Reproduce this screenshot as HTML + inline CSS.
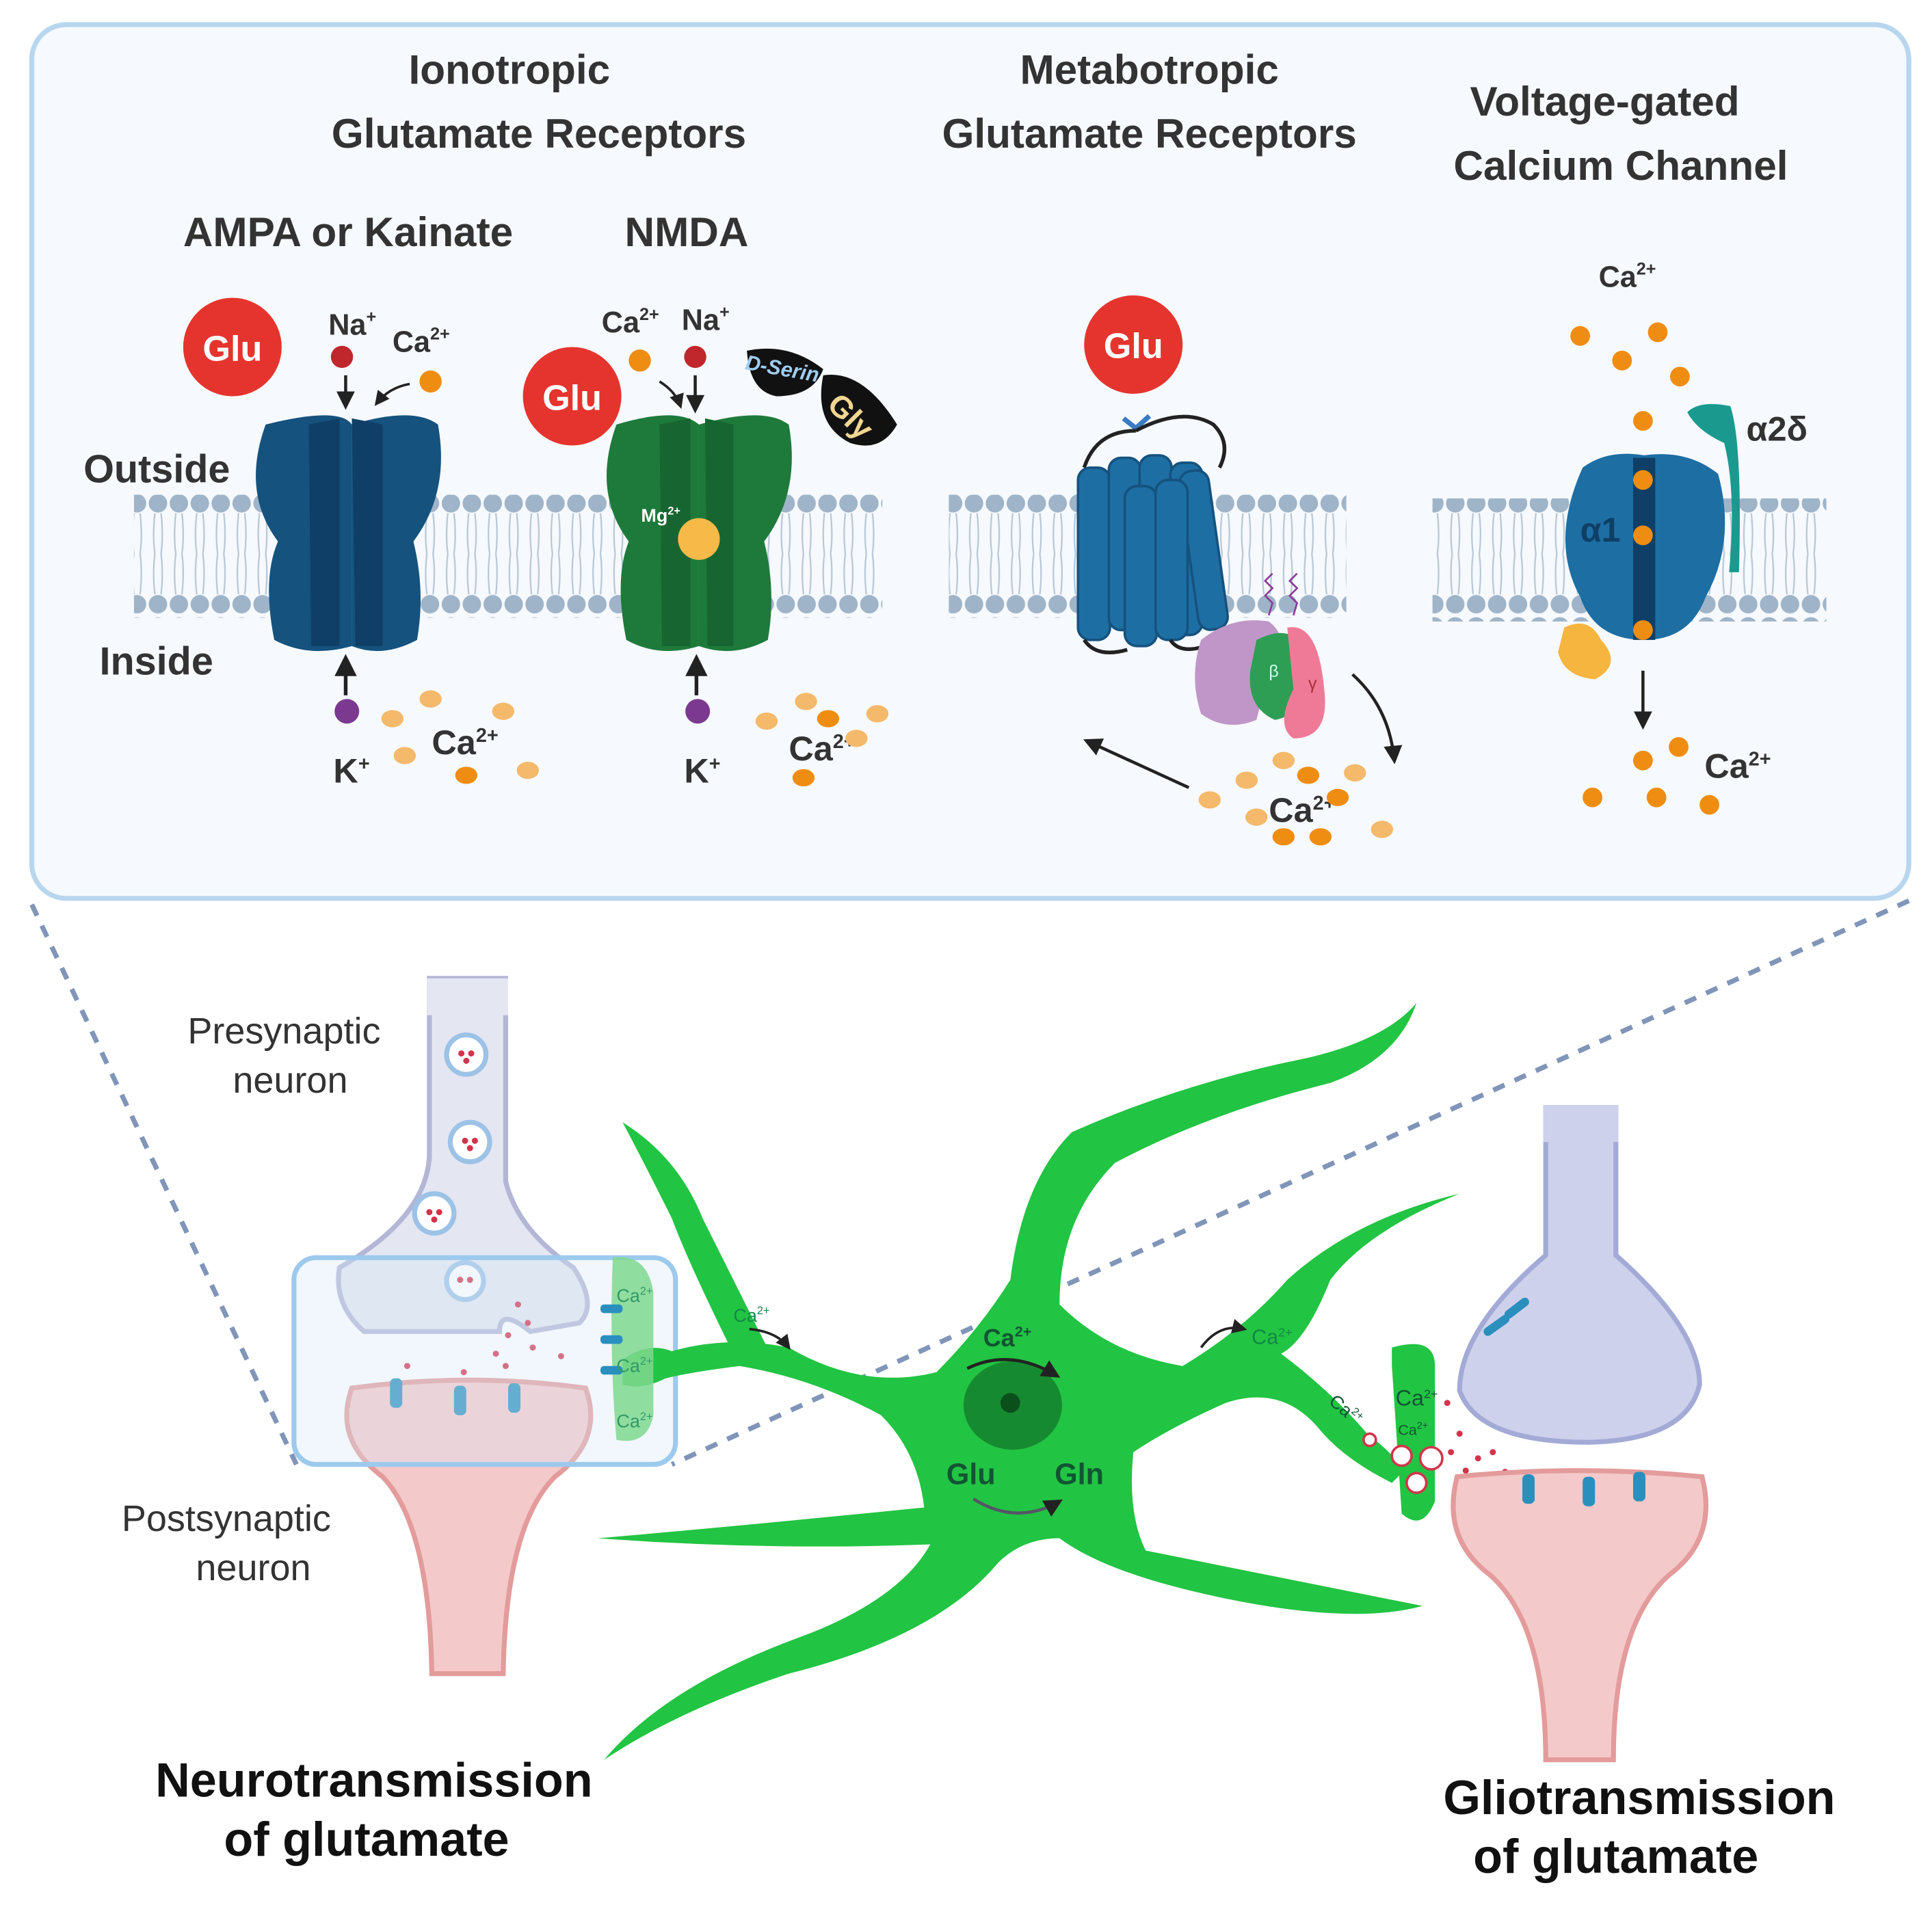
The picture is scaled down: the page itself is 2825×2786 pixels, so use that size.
<!DOCTYPE html>
<html><head><meta charset="utf-8"><style>
html,body{margin:0;padding:0;background:#fff;}
svg{display:block;}
text{font-family:"Liberation Sans",sans-serif;}
.b{font-weight:bold;fill:#333;}
</style></head><body>
<svg width="2825" height="2786" viewBox="0 0 1568 1548" xmlns="http://www.w3.org/2000/svg">
<defs>
<pattern id="lip" x="0" y="0" width="17" height="100" patternUnits="userSpaceOnUse">
<circle cx="8.5" cy="9" r="7.5" fill="#9fb4c8"/>
<circle cx="8.5" cy="91" r="7.5" fill="#9fb4c8"/>
<path d="M6 17 Q4 35 6 50 M11 17 Q13 35 11 50 M6 50 Q4 65 6 83 M11 50 Q13 65 11 83" stroke="#b5c6d6" stroke-width="1.2" fill="none"/>
</pattern>
<marker id="ar" viewBox="0 0 10 10" refX="8" refY="5" markerWidth="6" markerHeight="6" orient="auto"><path d="M0 0L10 5L0 10z" fill="#222"/></marker>
</defs>
<rect width="1568" height="1548" fill="#fff"/>
<rect x="25" y="20" width="1525" height="710" rx="28" fill="#f6f9fd" stroke="#b8d6ee" stroke-width="4"/>
<path d="M25 735 L240 1190" stroke="#8095b8" stroke-width="4" stroke-dasharray="10 9"/>
<path d="M1550 732 L545 1190" stroke="#8095b8" stroke-width="4" stroke-dasharray="10 9"/>

<text class="b" x="413" y="68" font-size="33.5" text-anchor="middle">Ionotropic</text>
<text class="b" x="437" y="120" font-size="33.5" text-anchor="middle">Glutamate Receptors</text>
<text class="b" x="933" y="68" font-size="33.5" text-anchor="middle">Metabotropic</text>
<text class="b" x="933" y="120" font-size="33.5" text-anchor="middle">Glutamate Receptors</text>
<text class="b" x="1303" y="94" font-size="33.5" text-anchor="middle">Voltage-gated</text>
<text class="b" x="1316" y="146" font-size="33.5" text-anchor="middle">Calcium Channel</text>
<text class="b" x="282" y="200" font-size="33.5" text-anchor="middle">AMPA or Kainate</text>
<text class="b" x="557" y="200" font-size="33.5" text-anchor="middle">NMDA</text>
<text class="b" x="67" y="392" font-size="32">Outside</text>
<text class="b" x="80" y="548" font-size="32">Inside</text>

<rect x="108" y="402" width="608" height="100" fill="url(#lip)"/>
<rect x="770" y="402" width="323" height="100" fill="url(#lip)"/>
<rect x="1163" y="405" width="320" height="100" fill="url(#lip)"/>

<path d="M215 345 Q275 330 285 345 L285 525 Q250 535 222 520 Q212 470 225 440 Q195 400 215 345z" fill="#15527e"/>
<path d="M285 345 Q335 330 355 345 Q365 400 335 440 Q345 480 338 520 Q310 535 285 525z" fill="#15527e"/>
<path d="M250 345 L275 340 L275 525 L252 525z" fill="#0f3f66"/>
<path d="M285 340 L310 345 L310 525 L288 525z" fill="#0f3f66"/>
<circle cx="188" cy="282" r="40" fill="#e5342e"/>
<text x="188" y="293" font-size="29" font-weight="bold" fill="#fff" text-anchor="middle">Glu</text>
<text class="b" x="266" y="272" font-size="24">Na<tspan font-size="14" dy="-10">+</tspan></text>
<text class="b" x="318" y="286" font-size="24">Ca<tspan font-size="14" dy="-10">2+</tspan></text>
<circle cx="277" cy="290" r="9" fill="#c0272d"/>
<circle cx="349" cy="310" r="9" fill="#ef8d12"/>
<path d="M280 305 L280 330" stroke="#222" stroke-width="2.5" marker-end="url(#ar)"/>
<path d="M332 312 Q315 315 305 328" stroke="#222" stroke-width="2" fill="none" marker-end="url(#ar)"/>
<path d="M280 565 L280 535" stroke="#222" stroke-width="3" marker-end="url(#ar)"/>
<circle cx="281" cy="578" r="10" fill="#7b3a8f"/>
<text class="b" x="270" y="636" font-size="28">K<tspan font-size="16" dy="-10">+</tspan></text>
<text class="b" x="350" y="613" font-size="28">Ca<tspan font-size="16" dy="-10">2+</tspan></text>
<g fill="#f4b96a"><ellipse cx="318" cy="584" rx="9" ry="7"/><ellipse cx="349" cy="568" rx="9" ry="7"/><ellipse cx="408" cy="578" rx="9" ry="7"/><ellipse cx="328" cy="614" rx="9" ry="7"/><ellipse cx="428" cy="626" rx="9" ry="7"/></g>
<ellipse cx="378" cy="630" rx="9" ry="7" fill="#ef8d12"/>

<path d="M500 345 Q550 330 567 345 L567 525 Q535 535 508 520 Q498 470 510 440 Q480 400 500 345z" fill="#1e7a3a"/>
<path d="M567 345 Q620 330 640 345 Q650 400 620 440 Q630 480 623 520 Q595 535 567 525z" fill="#1e7a3a"/>
<path d="M535 345 L560 340 L560 525 L537 525z" fill="#176530"/>
<path d="M572 340 L595 345 L595 525 L574 525z" fill="#176530"/>
<circle cx="567" cy="438" r="17" fill="#f7b948"/>
<text x="520" y="424" font-size="15" font-weight="bold" fill="#fff">Mg<tspan font-size="9" dy="-6">2+</tspan></text>
<circle cx="464" cy="322" r="40" fill="#e5342e"/>
<text x="464" y="333" font-size="29" font-weight="bold" fill="#fff" text-anchor="middle">Glu</text>
<text class="b" x="488" y="270" font-size="24">Ca<tspan font-size="14" dy="-10">2+</tspan></text>
<text class="b" x="553" y="268" font-size="24">Na<tspan font-size="14" dy="-10">+</tspan></text>
<circle cx="519" cy="293" r="9" fill="#ef8d12"/>
<circle cx="564" cy="290" r="9" fill="#c0272d"/>
<path d="M564 305 L564 333" stroke="#222" stroke-width="2.5" marker-end="url(#ar)"/>
<path d="M535 310 Q548 318 552 330" stroke="#222" stroke-width="2" fill="none" marker-end="url(#ar)"/>
<path d="M606 285 Q640 278 668 300 Q660 322 630 322 Q608 318 606 285z" fill="#111"/>
<text x="604" y="300" font-size="17" font-weight="bold" font-style="italic" fill="#9ecdf0" transform="rotate(10 604 300)">D-Serin</text>
<path d="M668 305 Q700 300 728 345 Q715 368 690 360 Q660 345 668 305z" fill="#111"/>
<text x="670" y="330" font-size="25" font-weight="bold" fill="#f1d691" transform="rotate(45 670 330)">Gly</text>
<path d="M565 565 L565 535" stroke="#222" stroke-width="3" marker-end="url(#ar)"/>
<circle cx="566" cy="578" r="10" fill="#7b3a8f"/>
<text class="b" x="555" y="636" font-size="28">K<tspan font-size="16" dy="-10">+</tspan></text>
<text class="b" x="640" y="618" font-size="28">Ca<tspan font-size="16" dy="-10">2+</tspan></text>
<g fill="#f4b96a"><ellipse cx="622" cy="586" rx="9" ry="7"/><ellipse cx="654" cy="570" rx="9" ry="7"/><ellipse cx="712" cy="580" rx="9" ry="7"/><ellipse cx="695" cy="600" rx="9" ry="7"/></g>
<ellipse cx="672" cy="584" rx="9" ry="7" fill="#ef8d12"/><ellipse cx="652" cy="632" rx="9" ry="7" fill="#ef8d12"/>

<circle cx="920" cy="280" r="40" fill="#e5342e"/>
<text x="920" y="291" font-size="29" font-weight="bold" fill="#fff" text-anchor="middle">Glu</text>
<path d="M912 340 L922 348 L933 338" stroke="#3b7bc4" stroke-width="4" fill="none"/>
<path d="M922 350 Q960 330 985 345 Q1000 360 990 380 M880 380 Q890 350 922 350" stroke="#222" stroke-width="3" fill="none"/>
<g fill="#1d6ea3" stroke="#15527e" stroke-width="2">
<rect x="875" y="380" width="26" height="140" rx="10"/><rect x="900" y="372" width="26" height="140" rx="10"/><rect x="925" y="370" width="26" height="140" rx="10"/><rect x="950" y="376" width="26" height="140" rx="10"/><rect x="965" y="382" width="24" height="130" rx="10" transform="rotate(-8 977 447)"/><rect x="913" y="395" width="26" height="130" rx="10"/><rect x="938" y="390" width="26" height="130" rx="10"/>
</g>
<path d="M880 520 Q890 535 915 528 M950 520 Q960 535 990 520" stroke="#222" stroke-width="3" fill="none"/>
<path d="M975 520 Q1000 500 1030 505 Q1050 520 1030 545 L1020 585 Q995 595 975 580 Q965 550 975 520z" fill="#c096c8"/>
<path d="M1020 520 Q1050 505 1060 530 Q1065 580 1035 585 Q1012 575 1015 545z" fill="#2f9e55"/>
<path d="M1045 510 Q1070 505 1075 560 Q1080 600 1050 600 Q1035 590 1050 560z" fill="#ef7a97"/>
<path d="M1030 500 l3 -10 l-6 -6 l6 -6 l-6 -6 l6 -6 M1050 500 l3 -10 l-6 -6 l6 -6 l-6 -6 l6 -6" stroke="#8a3e9a" stroke-width="1.5" fill="none"/>
<text x="1030" y="550" font-size="14" fill="#cfe">β</text><text x="1062" y="560" font-size="14" fill="#a33">γ</text>
<path d="M965 640 L882 602" stroke="#222" stroke-width="2.5" marker-end="url(#ar)"/>
<path d="M1098 548 Q1128 575 1132 618" stroke="#222" stroke-width="2.5" fill="none" marker-end="url(#ar)"/>
<text class="b" x="1030" y="668" font-size="28">Ca<tspan font-size="16" dy="-10">2+</tspan></text>
<g fill="#f4b96a"><ellipse cx="982" cy="650" rx="9" ry="7"/><ellipse cx="1012" cy="634" rx="9" ry="7"/><ellipse cx="1042" cy="618" rx="9" ry="7"/><ellipse cx="1100" cy="628" rx="9" ry="7"/><ellipse cx="1122" cy="674" rx="9" ry="7"/><ellipse cx="1020" cy="664" rx="9" ry="7"/></g>
<g fill="#ef8d12"><ellipse cx="1062" cy="630" rx="9" ry="7"/><ellipse cx="1042" cy="680" rx="9" ry="7"/><ellipse cx="1072" cy="680" rx="9" ry="7"/><ellipse cx="1086" cy="648" rx="9" ry="7"/></g>

<text class="b" x="1298" y="233" font-size="24">Ca<tspan font-size="14" dy="-10">2+</tspan></text>
<g fill="#ef8d12"><circle cx="1283" cy="273" r="8"/><circle cx="1346" cy="270" r="8"/><circle cx="1317" cy="293" r="8"/><circle cx="1364" cy="306" r="8"/><circle cx="1334" cy="342" r="8"/></g>
<path d="M1285 380 Q1305 365 1335 370 Q1370 365 1395 385 Q1410 440 1385 485 Q1372 520 1335 520 Q1295 520 1283 485 Q1258 440 1285 380z" fill="#1d6ea3"/>
<rect x="1326" y="372" width="18" height="148" fill="#0f3f66"/>
<g fill="#ef8d12"><circle cx="1334" cy="390" r="8"/><circle cx="1334" cy="435" r="8"/><circle cx="1334" cy="512" r="8"/></g>
<text x="1283" y="440" font-size="28" font-weight="bold" fill="#0f3f66">α1</text>
<path d="M1404 465 Q1410 400 1400 360 Q1378 350 1370 335 Q1380 325 1405 330 Q1415 360 1412 465z" fill="#1a9a8f"/>
<text class="b" x="1418" y="358" font-size="28">α2δ</text>
<path d="M1270 510 Q1290 500 1300 520 Q1318 540 1295 552 Q1270 550 1265 530z" fill="#f6b53e"/>
<path d="M1334 545 L1334 590" stroke="#222" stroke-width="2.5" marker-end="url(#ar)"/>
<text class="b" x="1384" y="632" font-size="28">Ca<tspan font-size="16" dy="-10">2+</tspan></text>
<g fill="#ef8d12"><circle cx="1334" cy="618" r="8"/><circle cx="1363" cy="607" r="8"/><circle cx="1293" cy="648" r="8"/><circle cx="1345" cy="648" r="8"/><circle cx="1388" cy="654" r="8"/></g>

<path d="M348 795 L410 795 L410 960 Q420 1000 465 1030 Q485 1060 470 1075 L430 1082 Q405 1062 405 1082 L295 1082 Q270 1060 275 1030 Q345 990 348 940z" fill="#e4e6f2" stroke="#b4b6d6" stroke-width="4"/>
<rect x="346" y="795" width="66" height="30" fill="#e4e6f2"/>
<g fill="#fff" stroke="#9cc2e6" stroke-width="4"><circle cx="378" cy="857" r="16"/><circle cx="381" cy="928" r="16"/><circle cx="352" cy="986" r="16"/><circle cx="377" cy="1041" r="15"/></g>
<g fill="#d2344c"><circle cx="374" cy="856" r="2.5"/><circle cx="382" cy="856" r="2.5"/><circle cx="378" cy="862" r="2.5"/><circle cx="377" cy="927" r="2.5"/><circle cx="385" cy="927" r="2.5"/><circle cx="381" cy="933" r="2.5"/><circle cx="348" cy="985" r="2.5"/><circle cx="356" cy="985" r="2.5"/><circle cx="352" cy="991" r="2.5"/><circle cx="373" cy="1040" r="2.5"/><circle cx="381" cy="1040" r="2.5"/></g>
<g fill="#d2344c"><circle cx="420" cy="1060" r="2.5"/><circle cx="428" cy="1075" r="2.5"/><circle cx="412" cy="1085" r="2.5"/><circle cx="402" cy="1100" r="2.5"/><circle cx="432" cy="1095" r="2.5"/><circle cx="376" cy="1115" r="2.5"/><circle cx="455" cy="1102" r="2.5"/><circle cx="410" cy="1110" r="2.5"/><circle cx="330" cy="1110" r="2.5"/></g>
<text x="230" y="848" font-size="30" fill="#333" text-anchor="middle">Presynaptic</text>
<text x="235" y="888" font-size="30" fill="#333" text-anchor="middle">neuron</text>
<path d="M285 1128 Q380 1115 475 1128 Q490 1170 450 1200 Q410 1240 408 1360 L350 1360 Q348 1240 310 1200 Q270 1170 285 1128z" fill="#f4c9c9" stroke="#e39b9b" stroke-width="4"/>
<g fill="#2a8fbd"><rect x="316" y="1120" width="10" height="24" rx="4"/><rect x="368" y="1126" width="10" height="24" rx="4"/><rect x="412" y="1124" width="10" height="24" rx="4"/></g>
<text x="183" y="1244" font-size="30" fill="#333" text-anchor="middle">Postsynaptic</text>
<text x="205" y="1284" font-size="30" fill="#333" text-anchor="middle">neuron</text>
<rect x="238" y="1022" width="310" height="168" rx="18" fill="#d7e9f7" fill-opacity="0.35" stroke="#9ccaed" stroke-width="4"/>

<g fill="#22c443">
<path d="M505 1105 Q525 1090 545 1098 Q590 1085 640 1095 Q700 1130 760 1115 Q795 1080 820 1040 Q830 960 870 920 Q960 880 1060 860 Q1125 845 1150 815 Q1135 860 1080 880 Q980 905 905 945 Q860 990 860 1060 Q900 1100 960 1110 Q1010 1080 1045 1040 Q1100 990 1185 970 Q1110 1000 1080 1040 Q1060 1090 1040 1100 Q1080 1130 1110 1165 Q1130 1180 1140 1195 L1130 1205 Q1090 1185 1070 1160 Q1040 1125 995 1140 Q950 1160 920 1180 Q915 1230 930 1260 Q1030 1280 1155 1305 Q1100 1320 1000 1300 Q900 1280 860 1250 Q830 1250 810 1270 Q760 1330 640 1360 Q550 1390 490 1430 Q540 1370 650 1330 Q730 1300 755 1255 Q620 1260 485 1250 Q600 1240 750 1225 Q745 1180 715 1150 Q660 1120 600 1110 Q560 1115 540 1120 Q520 1130 505 1125z"/>
<path d="M600 1110 Q560 1030 545 990 Q520 940 505 912 Q550 940 570 990 Q600 1050 625 1100z"/>
<path d="M1130 1095 Q1165 1085 1165 1110 L1165 1220 Q1155 1245 1138 1230 L1130 1110z"/>
<path d="M497 1022 Q525 1018 530 1050 L530 1150 Q525 1175 500 1170 Q494 1100 497 1022z" fill="#7fd88f" fill-opacity="0.85"/>
</g>
<g fill="#2a8fbd"><rect x="487" y="1060" width="18" height="7" rx="3"/><rect x="487" y="1085" width="18" height="7" rx="3"/><rect x="487" y="1110" width="18" height="7" rx="3"/></g>
<ellipse cx="822" cy="1142" rx="40" ry="36" fill="#168a30"/>
<circle cx="820" cy="1140" r="8" fill="#0b4f1b"/>
<text x="798" y="1094" font-size="20" font-weight="bold" fill="#153">Ca<tspan font-size="12" dy="-8">2+</tspan></text>
<path d="M785 1112 Q820 1095 858 1118" stroke="#222" stroke-width="2.5" fill="none" marker-end="url(#ar)"/>
<text x="768" y="1206" font-size="24" font-weight="bold" fill="#153">Glu</text>
<text x="856" y="1206" font-size="24" font-weight="bold" fill="#153">Gln</text>
<path d="M790 1218 Q825 1240 860 1220" stroke="#556" stroke-width="2.5" fill="none" marker-end="url(#ar)"/>
<text x="595" y="1074" font-size="15" fill="#184">Ca<tspan font-size="9" dy="-6">2+</tspan></text>
<path d="M608 1080 Q630 1082 640 1095" stroke="#222" stroke-width="2" fill="none" marker-end="url(#ar)"/>
<text x="1016" y="1092" font-size="17" fill="#184">Ca<tspan font-size="10" dy="-6">2+</tspan></text>
<path d="M975 1095 Q990 1075 1010 1080" stroke="#222" stroke-width="2" fill="none" marker-end="url(#ar)"/>
<text x="500" y="1058" font-size="15" fill="#396">Ca<tspan font-size="9" dy="-6">2+</tspan></text>
<text x="500" y="1115" font-size="15" fill="#396">Ca<tspan font-size="9" dy="-6">2+</tspan></text>
<text x="500" y="1160" font-size="15" fill="#396">Ca<tspan font-size="9" dy="-6">2+</tspan></text>
<text x="1133" y="1142" font-size="18" fill="#153">Ca<tspan font-size="10" dy="-6">2+</tspan></text>
<text x="1135" y="1166" font-size="12" fill="#153">Ca<tspan font-size="8" dy="-5">2+</tspan></text>
<text x="1078" y="1140" font-size="15" fill="#153" transform="rotate(40 1078 1140)">Ca<tspan font-size="9" dy="-6">2+</tspan></text>
<g fill="#fff" stroke="#d2344c" stroke-width="2"><circle cx="1138" cy="1183" r="8"/><circle cx="1150" cy="1205" r="8"/><circle cx="1112" cy="1170" r="5"/><circle cx="1162" cy="1185" r="9"/></g>
<g fill="#d2344c"><circle cx="1178" cy="1180" r="2.5"/><circle cx="1190" cy="1195" r="2.5"/><circle cx="1200" cy="1185" r="2.5"/><circle cx="1212" cy="1180" r="2.5"/><circle cx="1175" cy="1140" r="2.5"/><circle cx="1185" cy="1165" r="2.5"/><circle cx="1222" cy="1196" r="2.5"/></g>

<path d="M1255 900 L1312 900 L1312 1020 Q1380 1080 1380 1125 Q1370 1170 1290 1172 Q1200 1172 1185 1130 Q1185 1080 1255 1020z" fill="#cdd1eb" stroke="#a3aad6" stroke-width="4"/>
<rect x="1253" y="898" width="61" height="30" fill="#cdd1eb"/>
<g stroke="#2a8fbd" stroke-width="7" stroke-linecap="round"><path d="M1208 1082 L1222 1072 M1225 1068 L1238 1058"/></g>
<path d="M1183 1200 Q1280 1190 1382 1200 Q1395 1250 1355 1280 Q1310 1320 1310 1430 L1255 1430 Q1255 1320 1210 1280 Q1170 1250 1183 1200z" fill="#f4c9c9" stroke="#e39b9b" stroke-width="4"/>
<g fill="#2a8fbd"><rect x="1236" y="1198" width="10" height="24" rx="4"/><rect x="1285" y="1200" width="10" height="24" rx="4"/><rect x="1326" y="1196" width="10" height="24" rx="4"/></g>

<text x="303" y="1460" font-size="39" font-weight="bold" fill="#111" text-anchor="middle">Neurotransmission</text>
<text x="297" y="1508" font-size="39" font-weight="bold" fill="#111" text-anchor="middle">of glutamate</text>
<text x="1331" y="1474" font-size="39" font-weight="bold" fill="#111" text-anchor="middle">Gliotransmission</text>
<text x="1312" y="1522" font-size="39" font-weight="bold" fill="#111" text-anchor="middle">of glutamate</text>
</svg>
</body></html>
